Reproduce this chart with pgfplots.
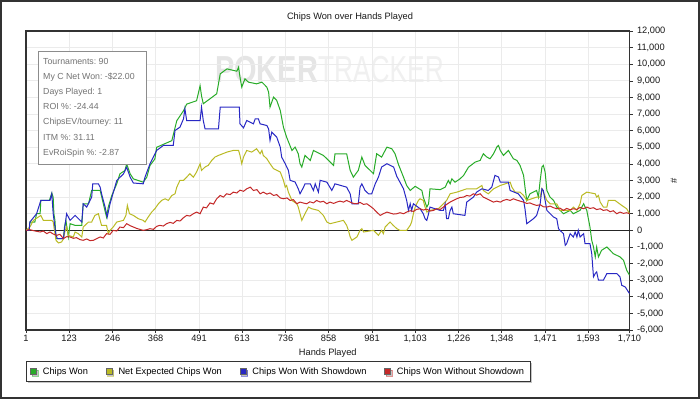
\documentclass[border=0pt]{standalone}
\usepackage{fontspec}
\setmainfont{Liberation Sans}
\usepackage{pgfplots}
\usepackage{pgfplotstable}
\pgfplotsset{compat=1.18}
\usetikzlibrary{shadows}
\frenchspacing
\definecolor{cgreen}{RGB}{40,172,40}
\definecolor{cyellow}{RGB}{186,186,36}
\definecolor{cblue}{RGB}{40,40,196}
\definecolor{cred}{RGB}{196,40,40}
\newcommand{\lbl}{\fontsize{9.3}{11}\selectfont}

\pgfplotstableread{
x y
1 0
10 0
12 500
26 500
31 1000
41 1000
43 1800
67 1800
74 2240
78 1990
80 1000
83 600
86 -500
107 -500
110 200
114 600
121 -400
126 400
140 300
159 300
163 1600
178 1600
187 2400
211 2400
220 1600
229 800
234 1400
244 2100
258 2800
267 3400
281 3600
286 4000
296 3400
305 3100
333 2900
343 3200
352 3900
366 4300
371 5000
414 5400
428 6600
447 7200
456 7600
484 7800
494 8700
498 8100
503 7620
522 7920
541 8220
546 8820
551 9420
570 9720
598 9580
603 9820
607 9220
612 8620
621 9120
631 8920
654 8820
669 8920
683 8620
688 8320
692 7420
702 8020
711 7820
721 7220
730 6210
739 5610
754 4810
763 5010
772 4610
777 4010
782 3810
791 4510
806 4210
815 4810
843 4510
853 4310
872 3910
876 4610
909 4610
919 3610
928 3200
942 3610
952 4410
961 3910
985 3410
994 4610
1008 4410
1023 5010
1037 4910
1046 4610
1056 3950
1070 3200
1079 2700
1089 2400
1103 2650
1122 2400
1126 2000
1136 1400
1141 1600
1145 2500
1174 2450
1188 2600
1197 3000
1202 2800
1207 3100
1216 2900
1230 3100
1240 3300
1254 3800
1273 4110
1287 4210
1296 4610
1306 4410
1315 4310
1325 4610
1334 5010
1339 5110
1344 4810
1353 4510
1367 4810
1381 4310
1391 4210
1400 3910
1410 3310
1414 2600
1419 1800
1428 2200
1447 2400
1452 2000
1457 3000
1462 3810
1466 3910
1471 3510
1476 2400
1485 2000
1495 1800
1504 1400
1523 1000
1542 1200
1551 1000
1570 1200
1580 1600
1589 1200
1598 200
1603 -600
1608 -1000
1613 -1600
1617 -1000
1622 -1600
1631 -1200
1646 -1000
1664 -1400
1683 -1600
1693 -1800
1702 -2400
1710 -2700
}\greentab

\pgfplotstableread{
x y
1 0
12 200
22 600
36 800
43 900
50 600
74 600
78 500
83 -200
86 -600
93 -760
102 -700
107 -500
111 -100
116 200
121 -300
135 -400
140 -100
149 -200
159 -400
163 200
178 500
187 500
196 900
206 1000
211 600
215 300
229 300
234 -200
239 0
248 200
258 500
277 600
284 900
288 1500
294 1000
305 900
319 700
333 600
338 500
347 800
357 1100
366 1300
376 1600
385 1800
395 1900
404 1800
414 2100
423 2200
428 2600
437 3010
447 3010
456 3200
465 3410
475 3200
484 3510
494 4010
498 3610
508 3810
517 3910
527 4210
536 4410
546 4510
570 4710
588 4810
603 4810
607 4510
612 4010
617 4410
626 4810
640 4710
654 4910
664 4610
669 4810
673 4510
683 4310
692 4010
702 3710
721 3510
730 3010
735 2600
739 2700
744 2300
754 1800
768 1600
772 1400
777 1000
782 600
791 1000
801 1400
810 1300
829 1200
843 900
853 500
862 400
900 600
909 300
914 0
919 -400
924 -600
938 -400
947 0
952 100
957 -100
985 0
999 -300
1008 0
1013 -200
1018 200
1027 400
1032 500
1041 300
1051 100
1060 0
1079 0
1089 300
1093 500
1098 1000
1103 1400
1112 1800
1117 1900
1126 1800
1131 1400
1136 1100
1145 1200
1169 1300
1183 1600
1192 1800
1202 2200
1221 2300
1249 2500
1277 2500
1292 2700
1296 2400
1310 2200
1325 2500
1344 2700
1372 2900
1377 2600
1386 2300
1400 2300
1410 2100
1419 1800
1447 2000
1457 2000
1462 2500
1466 2300
1476 1800
1485 1600
1504 1600
1513 1200
1542 1200
1551 1400
1561 1200
1570 1600
1575 2100
1589 2300
1613 2200
1617 2000
1622 2100
1627 1700
1636 1400
1646 1400
1650 1800
1669 1800
1688 1500
1702 1300
1710 1000
}\yellowtab

\pgfplotstableread{
x y
1 0
10 0
12 500
31 1000
43 1800
69 1800
74 2200
78 1000
86 -300
90 -500
107 -500
111 200
116 1000
126 600
140 900
159 500
163 1600
173 1400
187 2000
190 2800
206 2800
211 2600
215 2200
225 1400
231 800
239 1600
258 3000
277 3400
286 3800
296 3200
305 2850
333 2800
338 3200
352 4000
371 4810
390 5110
418 5110
423 6010
437 6210
447 6710
451 7320
456 6610
494 6610
498 7420
503 6610
508 6110
546 6110
551 7420
605 7420
607 6410
617 6170
626 6610
636 6510
645 6410
650 6710
659 6710
664 6410
683 6310
688 6110
692 5410
697 5910
711 5610
721 5010
725 4410
735 4010
744 3610
749 3010
763 2910
772 2500
777 2200
787 2600
791 2800
806 2800
815 2400
820 2800
829 2300
834 3010
853 2900
867 2400
876 2800
909 2600
919 2200
924 1600
942 1600
947 2600
952 2800
961 2400
971 2200
980 2200
990 2800
999 3200
1008 3810
1023 4010
1042 3810
1051 3250
1070 2500
1079 1800
1084 1200
1089 1600
1093 1200
1098 1600
1117 1300
1126 1000
1131 700
1136 600
1141 1000
1145 1400
1174 1200
1183 1200
1188 1600
1192 700
1197 700
1202 1200
1207 1400
1211 1000
1244 900
1249 1700
1268 2000
1277 2300
1292 2500
1310 2400
1320 2600
1329 3310
1339 3210
1344 2900
1367 2900
1372 2400
1395 2200
1410 1800
1414 1300
1419 400
1438 700
1447 900
1457 1600
1462 2500
1466 2400
1471 1800
1476 1200
1495 800
1504 700
1509 100
1513 0
1523 -200
1528 -900
1532 -800
1542 -200
1551 -400
1556 -100
1561 -400
1565 0
1570 -400
1580 -200
1584 -800
1598 -800
1603 -1400
1608 -2800
1613 -2600
1617 -2500
1622 -3000
1636 -3000
1646 -2600
1674 -2600
1683 -2800
1688 -3310
1698 -3410
1704 -3610
1710 -3810
}\bluetab

\pgfplotstableread{
x y
1 0
12 40
22 -20
32 -60
41 -100
50 -40
60 -200
69 -100
78 -220
88 -300
97 -240
107 -500
116 -380
126 -400
135 -480
144 -440
154 -560
163 -600
173 -520
182 -620
192 -600
201 -500
211 -400
220 -460
229 -200
239 -240
248 0
258 -40
267 200
277 160
286 400
296 280
305 200
314 120
323 60
333 0
343 40
352 100
362 60
371 240
380 300
390 260
399 400
409 480
418 420
428 600
437 560
447 760
456 900
465 860
475 1000
484 1100
494 1000
503 1400
512 1350
522 1650
532 1580
541 1900
551 2100
560 2000
569 2200
579 2150
588 2300
598 2250
607 2420
617 2350
626 2500
636 2600
645 2400
655 2450
664 2200
673 2300
683 2180
692 2250
702 2100
711 2150
721 1950
730 1900
740 1950
749 1800
758 1850
768 1600
777 1700
787 1640
796 1600
805 1720
815 1650
824 1800
834 1700
843 1750
853 1600
862 1700
872 1620
881 1700
890 1760
900 1700
909 1800
919 1700
928 1620
938 1600
947 1680
957 1560
966 1600
976 1450
985 1300
994 1100
1004 900
1013 1000
1023 1100
1032 1040
1042 980
1051 1000
1060 1060
1070 1000
1079 1100
1089 1180
1098 1140
1107 1260
1117 1300
1126 1220
1136 1280
1145 1160
1155 1200
1164 1300
1174 1260
1183 1400
1192 1560
1202 1700
1211 1800
1221 1900
1230 1980
1240 2000
1249 2100
1258 2060
1268 2200
1277 2120
1287 2200
1296 2000
1306 1900
1315 1800
1325 1700
1334 1760
1344 1700
1353 1800
1362 1860
1372 1800
1381 1900
1391 1820
1400 1760
1410 1700
1419 1620
1428 1650
1438 1560
1447 1500
1457 1540
1466 1420
1476 1400
1485 1460
1495 1360
1504 1300
1513 1340
1523 1200
1532 1320
1542 1240
1551 1300
1561 1260
1570 1380
1580 1300
1589 1400
1598 1320
1608 1360
1617 1250
1627 1300
1636 1200
1646 1240
1655 1120
1664 1180
1674 1000
1683 1100
1693 1020
1702 1060
1710 1000
}\redtab

\begin{document}
\begin{tikzpicture}[x=1bp,y=1bp]
\useasboundingbox (0,0) rectangle (700,399);
\fill[white] (0,0) rectangle (700,399);
\draw[line width=2bp, draw=black!80] (1,1) rectangle (699,398);
\node[font=\lbl, text=black!90] at (350,382) {Chips Won over Hands Played};
% watermark
\node[anchor=base west, font=\bfseries\fontsize{37.7}{40}\selectfont, text=black!10, xscale=0.77, inner sep=0] at (215,317) {POKER};
\node[anchor=base west, font=\fontsize{37.7}{40}\selectfont, text=black!6, xscale=0.7, inner sep=0] at (318,317) {TRACKER};
\begin{axis}[
  at={(26bp,69bp)}, anchor=south west,
  scale only axis, width=603.5bp, height=299bp,
  xmin=1, xmax=1710, ymin=-6000, ymax=12000,
  scaled y ticks=false, scaled x ticks=false,
  xtick={1,123,246,368,491,613,736,858,981,1103,1226,1348,1471,1593,1710},
  xticklabels={1,123,246,368,491,613,736,858,981,{1,103},{1,226},{1,348},{1,471},{1,593},{1,710}},
  ytick={-6000,-5000,...,12000},
  yticklabels={{-6,000},{-5,000},{-4,000},{-3,000},{-2,000},{-1,000},0,{1,000},{2,000},{3,000},{4,000},{5,000},{6,000},{7,000},{8,000},{9,000},{10,000},{11,000},{12,000}},
  ytick pos=right, yticklabel pos=right, xtick pos=bottom,
  tick align=outside, major tick length=3bp,
  grid=major, major grid style={black!8, line width=0.8bp},
  axis line style={black!80, line width=1.2bp},
  tick style={black!80, line width=0.6bp},
  ticklabel style={font=\lbl, text=black!90},
  yticklabel style={xshift=1bp},
  xticklabel style={yshift=1bp},
  extra y ticks={0}, extra y tick labels={},
  extra y tick style={grid=major, major grid style={black!85, line width=1.2bp}},
  legend columns=4,
  legend style={at={(0,-0.104)}, anchor=north west, draw=black!80, line width=0.8bp,
    font=\lbl, inner xsep=4bp, inner ysep=4bp, fill=white,
    drop shadow={shadow xshift=1.5bp, shadow yshift=-1.5bp, fill=black!45},
    /tikz/every odd column/.append style={column sep=4bp},
    /tikz/every even column/.append style={column sep=16bp}},
  legend cell align=left,
  legend image code/.code={\filldraw[#1, draw=black!60, line width=0.5bp] (0bp,-3bp) rectangle (6bp,3bp);},
]
\addplot[cgreen, no markers, line width=1bp] table[x=x,y=y] {\greentab};
\addlegendentry{Chips Won}
\addplot[cyellow, no markers, line width=1bp] table[x=x,y=y] {\yellowtab};
\addlegendentry{Net Expected Chips Won}
\addplot[cblue, no markers, line width=1bp] table[x=x,y=y] {\bluetab};
\addlegendentry{Chips Won With Showdown}
\addplot[cred, no markers, line width=1bp] table[x=x,y=y] {\redtab};
\addlegendentry{Chips Won Without Showdown}
\end{axis}
\node[font=\lbl, text=black!90] at (327.75,46) {Hands Played};
\node[font=\lbl, text=black!90, rotate=90] at (674,218) {\#};
% info box
\draw[draw=black!45, fill=white, line width=0.8bp] (38.5,235) rectangle (146,348);
\foreach \t [count=\i from 0] in {Tournaments: 90, My C Net Won: -\$22.00, Days Played: 1, ROI \%: -24.44, ChipsEV/tourney: 11, ITM \%: 31.11, EvRoiSpin \%: -2.87}{
  \node[anchor=base west, inner sep=0, font=\fontsize{8.8}{10}\selectfont, text=black!55] at (43,335-15.2*\i) {\t};
}
\end{tikzpicture}
\end{document}
